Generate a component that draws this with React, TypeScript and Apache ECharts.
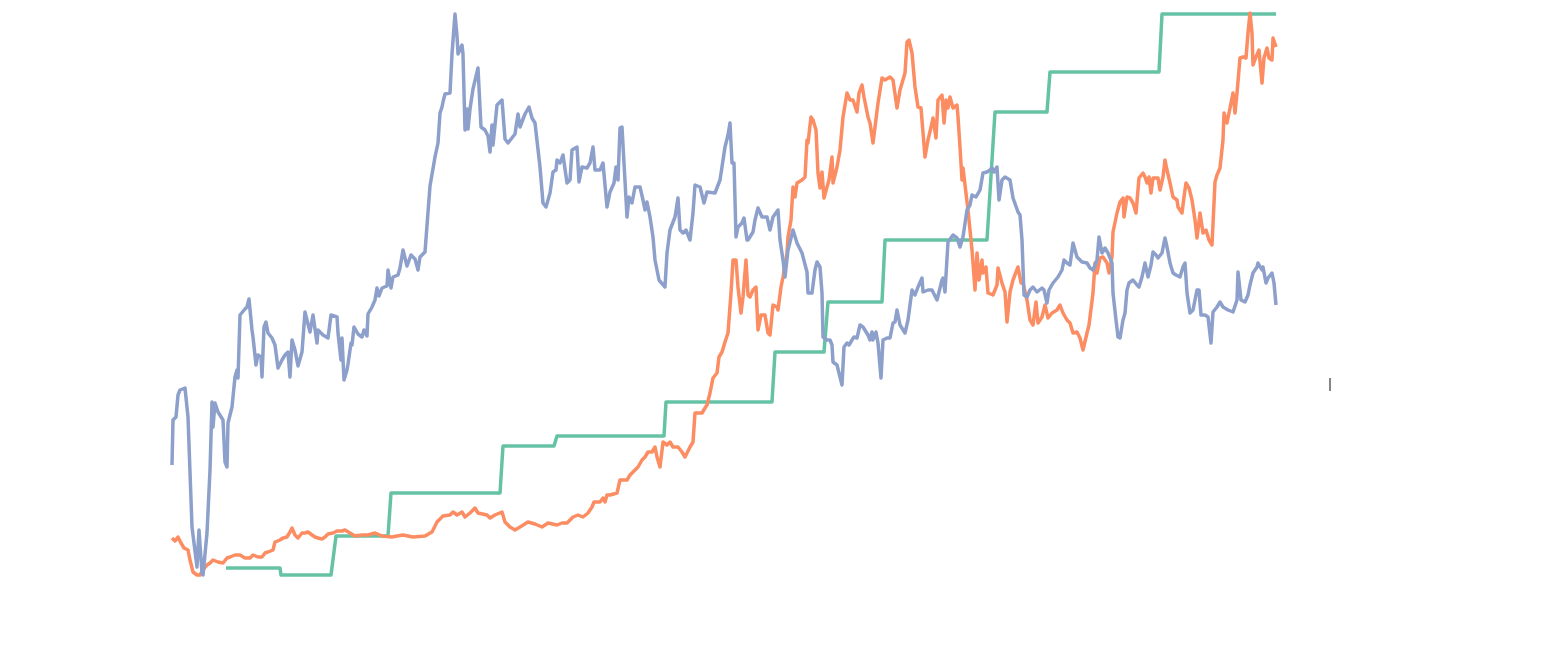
import React, { useEffect, useRef } from "react";
import * as echarts from "echarts";

// time index (trading-day offset) and value pairs
const blueSeries: [number, number][] = [
  [0,111],[1,156],[4,159],[6,181],[8,186],[13,188],[16,159],[20,49],[25,9],[27,46],[30,3],[31,1],[35,43],[38,106],[40,174],[41,149],[43,173],[46,164],[51,156],[53,114],[55,109],[56,153],[60,169],[63,199],[65,206],[66,198],[68,261],[73,267],[75,269],[77,277],[80,246],[81,239],[84,211],[86,221],[89,219],[90,199],[92,249],[94,254],[96,243],[100,238],[103,231],[106,208],[110,216],[113,221],[116,224],[118,199],[120,236],[123,226],[126,210],[130,224],[133,264],[138,244],[141,261],[145,233],[146,246],[151,241],[156,238],[159,261],[165,259],[166,243],[169,216],[170,238],[172,196],[175,206],[176,212],[179,233],[180,231],[182,249],[186,242],[190,239],[192,246],[195,240],[196,262],[200,269],[203,276],[205,288],[207,280],[210,288],[215,290],[216,306],[219,288],[221,299],[226,301],[228,308],[231,326],[235,310],[239,321],[243,317],[246,306],[248,319],[253,324],[258,390],[263,419],[266,433],[268,463],[270,469],[271,474],[273,482],[278,483],[280,522],[283,562],[285,540],[286,522],[290,531],[291,522],[293,446],[295,467],[296,447],[298,467],[301,487],[306,508],[309,449],[313,446],[316,440],[318,424],[320,451],[321,431],[325,471],[330,476],[333,437],[336,433],[343,442],[346,462],[348,449],[353,462],[357,469],[360,458],[363,453],
  [368,409],[371,373],[374,369],[378,383],[381,404],[384,406],[385,416],[388,413],[391,421],[395,393],[398,396],[400,426],[405,429],[407,394],[410,409],[415,408],[418,413],[421,429],[423,406],[428,406],[431,413],[435,369],[438,384],[442,393],[444,409],[446,396],[448,448],[450,449],[452,413],[455,359],[457,379],[460,373],[463,389],[468,389],[471,376],[473,366],[475,374],[478,359],[481,339],[483,316],[487,296],[493,289],[495,323],[498,346],[503,359],[506,378],[508,346],[511,343],[514,346],[518,336],[521,363],[523,391],[528,389],[532,373],[535,384],[543,383],[548,396],[553,429],[556,441],[558,453],[560,413],[562,413],[564,339],[566,349],[570,353],[572,358],[575,336],[576,336],[581,344],[583,356],[586,368],[590,359],[595,359],[598,346],[601,359],[606,366],[608,336],[611,316],[613,299],[616,326],[621,346],[625,333],[630,323],[635,304],[636,283],[640,283],[643,306],[645,314],[648,309],[650,283],[651,239],[655,236],[658,236],[660,231],[661,214],[665,211],[670,191],[672,229],[675,233],[677,231],[680,236],[682,239],[685,238],[688,251],[691,249],[696,241],[698,236],[700,244],[701,236],[704,244],[706,233],[709,198],[711,236],[715,238],[718,238],
  [721,253],[723,254],[725,266],[728,251],[733,243],[736,256],[740,286],[743,281],[746,289],[750,298],[751,284],[756,286],[760,286],[765,276],[770,296],[771,298],[773,284],[776,334],[781,341],[785,338],[788,329],[791,339],[795,366],[798,371],[800,381],[804,379],[808,386],[811,403],[815,404],[818,406],[820,408],[822,404],[825,409],[827,376],[830,396],[833,399],[838,396],[841,378],[846,364],[848,361],[850,336],[851,309],[852,281],[855,279],[858,286],[861,289],[865,284],[870,288],[872,286],[875,273],[877,286],[881,293],[886,299],[890,306],[892,316],[895,313],[898,311],[901,333],[905,319],[910,314],[915,313],[918,308],[921,306],[925,316],[927,339],[930,323],[933,328],[936,323],[940,313],[941,283],[944,256],[946,239],[948,238],[951,256],[953,263],[955,286],[957,293],[961,296],[965,291],[967,289],[970,299],[973,313],[976,299],[979,311],[981,324],[984,321],[986,318],[990,323],[993,338],[995,329],[998,313],[1001,303],[1004,301],[1008,299],[1011,309],[1013,313],[1015,283],[1018,263],[1021,266],[1025,286],[1027,286],[1029,261],[1033,261],[1036,259],[1039,233],[1041,264],[1045,269],[1048,274],[1051,269],[1056,266],[1061,264],[1065,276],[1066,304],[1069,276],[1073,274],[1076,281],[1078,291],[1081,303],[1085,309],[1086,313],[1090,306],[1091,309],[1094,293],[1096,298],[1100,303],[1102,293],[1104,271]
];

const orangeSeries: [number, number][] = [
  [0,38],[3,35],[6,39],[9,33],[12,28],[16,26],[18,16],[21,4],[25,1],[28,1],[31,6],[35,11],[38,13],[41,16],[46,14],[51,13],[55,18],[58,19],[63,21],[68,21],[73,18],[78,18],[81,21],[86,19],[90,19],[93,23],[96,24],[101,26],[103,34],[108,36],[111,38],[115,39],[118,44],[120,48],[123,41],[126,38],[130,43],[133,43],[136,44],[140,41],[143,39],[146,38],[150,37],[153,39],[156,42],[161,43],[165,45],[170,45],[173,46],[178,43],[183,40],[190,41],[196,41],[203,43],[210,40],[220,39],[225,40],[231,41],[241,39],[253,40],[260,44],[265,54],[271,60],[278,61],[281,64],[285,61],[290,64],[293,59],[298,63],[303,68],[306,63],[315,61],[318,58],[323,61],[330,64],[333,54],[338,49],[343,46],[348,49],[356,54],[363,52],[370,49],[376,53],[385,51],[390,53],[395,53],[401,59],[406,61],[411,59],[416,63],[420,69],[422,74],[428,74],[431,78],[433,74],[435,81],[438,81],[445,83],[448,96],[455,96],[458,101],[461,104],[466,109],[470,116],[473,119],[476,124],[480,124],[483,129],[485,119],[488,109],[491,134],[495,131],[498,134],[501,129],[506,129],[510,124],[513,119],[518,129],[521,134],[523,163],[530,163],[533,168],[535,171],[538,183],[541,198],[545,203],[547,219],[550,224],[553,234],[556,243],[559,283],[561,316],[564,316],[566,289],[569,263],[571,279],[574,316],[576,281],[578,279],[581,286],[584,289],[586,246],[589,261],[593,261],[596,243],[598,241],[601,271],[605,269],[606,266],[609,289],[611,299],[615,323],[616,339],[619,356],[621,389],[623,379],[625,393],[630,396],[633,399],[635,436],[636,433],[639,459],[641,456],[644,446],[646,403],[648,388],[650,404],[652,378],[655,389],[657,396],[660,419],[661,393],[665,409],[668,426],[671,459],[675,483],[678,476],[681,476],[685,464],[687,483],[690,491],[692,479],[696,459],[698,453],[701,433],[703,449],[706,473],[710,498],[713,496],[718,499],[721,496],[725,468],[728,486],[733,503],[735,534],[737,536],[740,523],[743,489],[746,469],[749,468],[753,419],[756,436],[760,453],[761,458],[764,438],[766,476],[770,481],[772,453],[774,476],[776,468],[778,479],[781,468],[785,471],[786,459],[788,429],[790,396],[791,408],[793,391],[796,366],[800,326],[801,313],[803,286],[805,323],[807,296],[810,316],[811,303],[814,309],[816,283],[821,281],[825,291],[826,308],[830,293],[833,284],[835,254],[838,284],[841,296],[846,309],[849,293],[851,293],[855,276],[858,256],[861,251],[864,274],[866,253],[870,259],[873,271],[876,258],[880,263],[885,266],[888,271],[891,263],[895,256],[898,253],[901,243],[905,244],[908,238],[911,226],[915,243],[917,251],[921,283],[923,313],[925,303],[928,318],[931,319],[935,313],[937,303],[940,319],[941,344],[945,363],[948,374],[951,378],[952,359],[955,379],[958,378],[961,373],[964,363],[967,398],[971,403],[973,399],[975,393],[977,399],[979,383],[981,398],[986,398],[988,386],[991,399],[993,416],[995,406],[998,393],[1001,379],[1005,376],[1006,369],[1010,363],[1012,379],[1014,393],[1017,388],[1020,376],[1023,356],[1025,338],[1028,363],[1031,343],[1034,346],[1037,336],[1040,331],[1043,394],[1045,401],[1048,408],[1051,436],[1052,463],[1055,453],[1058,468],[1061,483],[1063,463],[1065,483],[1068,518],[1071,519],[1074,518],[1076,543],[1078,563],[1080,543],[1081,511],[1084,519],[1087,526],[1090,493],[1092,518],[1095,528],[1097,518],[1100,516],[1101,538],[1104,529]
];

const greenSeries: [number, number][] = [
  [54,8],[108,8],[109,1],[159,1],[164,40],[216,40],[219,83],[328,83],[331,130],[382,130],[385,140],[492,140],[494,174],[600,174],[603,224],[652,224],[656,274],[710,274],[713,336],[815,336],[823,464],[875,464],[878,504],[987,504],[990,562],[1104,562]
];

const seriesNames = ["Rate", "Index B", "Index A"];
const seriesColors = ["#66c2a5", "#fc8d62", "#8da0cb"];

export default function App() {
  const ref = useRef<HTMLDivElement>(null);
  useEffect(() => {
    if (!ref.current) return;
    const chart = echarts.init(ref.current, null, { renderer: "svg" });
    const datasets = [greenSeries, orangeSeries, blueSeries];
    chart.setOption({
      animation: false,
      backgroundColor: "#ffffff",
      grid: { left: 172, right: 274, top: 13, bottom: 69, containLabel: false },
      xAxis: {
        type: "value",
        min: 0,
        max: 1104,
        show: false,
      },
      yAxis: {
        type: "value",
        min: 0,
        max: 563,
        show: false,
      },
      series: datasets.map((d, i) => ({
        name: seriesNames[i],
        type: "line",
        data: d,
        showSymbol: false,
        symbol: "none",
        smooth: false,
        lineStyle: { color: seriesColors[i], width: 3.5, join: "round" },
        itemStyle: { color: seriesColors[i] },
        z: 2 + i,
      })),
      graphic: [
        {
          type: "line",
          shape: { x1: 1330, y1: 378, x2: 1330, y2: 391 },
          style: { stroke: "#333333", lineWidth: 1.2 },
        },
      ],
    });
    return () => chart.dispose();
  }, []);
  return (
    <div
      ref={ref}
      style={{ position: "absolute", left: 0, top: 0, width: 1550, height: 645 }}
    />
  );
}
